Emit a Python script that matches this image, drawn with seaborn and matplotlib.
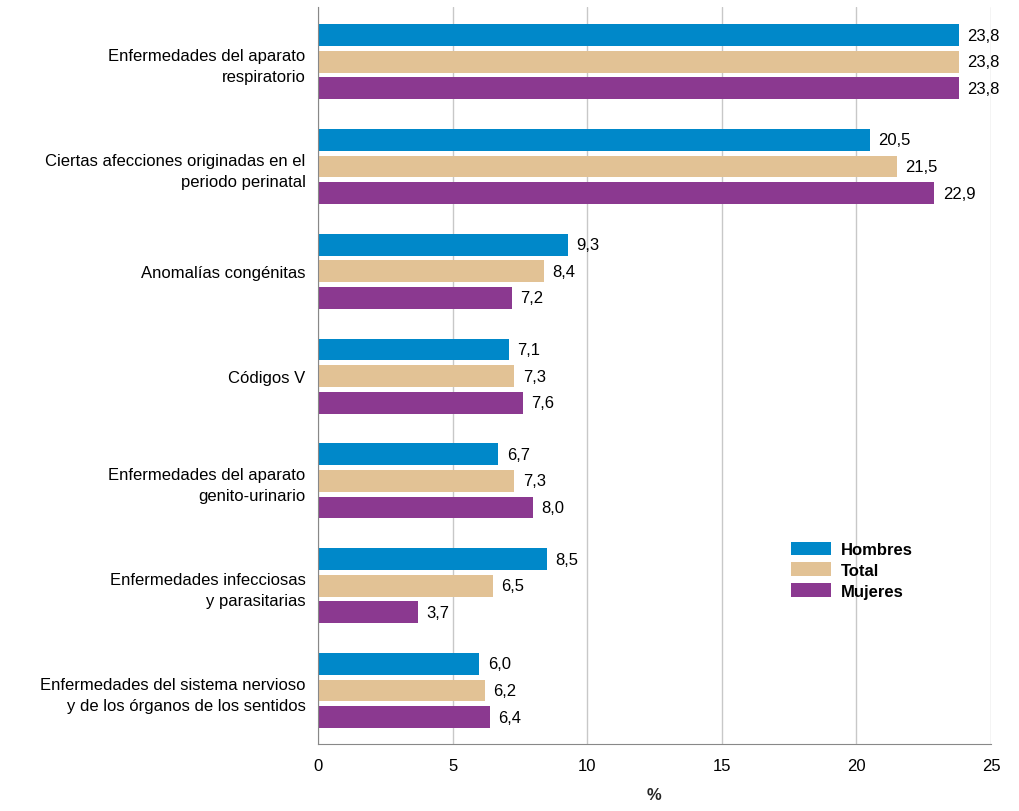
import matplotlib
matplotlib.use("Agg")
import matplotlib.pyplot as plt
import seaborn as sns
import pandas as pd

categories = ["Enfermedades del aparato\nrespiratorio",
              "Ciertas afecciones originadas en el\nperiodo perinatal",
              "Anomalías congénitas",
              "Códigos V",
              "Enfermedades del aparato\ngenito-urinario",
              "Enfermedades infecciosas\ny parasitarias",
              "Enfermedades del sistema nervioso\ny de los órganos de los sentidos"]
hombres = [23.8, 20.5, 9.3, 7.1, 6.7, 8.5, 6.0]
total = [23.8, 21.5, 8.4, 7.3, 7.3, 6.5, 6.2]
mujeres = [23.8, 22.9, 7.2, 7.6, 8.0, 3.7, 6.4]
series = ["Hombres", "Total", "Mujeres"]
colors = ["#0088C9", "#E2C295", "#8B3990"]

rows = []
for name, vals in zip(series, [hombres, total, mujeres]):
    for c, v in zip(categories, vals):
        rows.append({"cat": c, "serie": name, "val": v})
df = pd.DataFrame(rows)

sns.set_style("white")
plt.rcParams['font.family'] = ['Liberation Sans', 'DejaVu Sans']
plt.rcParams['text.color'] = 'black'
plt.rcParams['xtick.color'] = 'black'
plt.rcParams['ytick.color'] = 'black'
fig = plt.figure(figsize=(10.19, 8.12), dpi=100)
ax = fig.add_axes([0.312, 0.0825, 0.6605, 0.9075])
sns.barplot(data=df, y="cat", x="val", hue="serie", hue_order=series,
            palette=colors, orient="h", width=0.76, gap=0.18, ax=ax,
            errorbar=None, saturation=1, order=categories, linewidth=0)
for cont in ax.containers:
    ax.bar_label(cont, labels=[f"{v:.1f}".replace(".", ",") for v in cont.datavalues],
                 padding=6, fontsize=12, color="black")
ax.set_xlim(0, 25)
ax.set_ylim(6.51, -0.52)
ax.set_xticks([0, 5, 10, 15, 20, 25])
ax.xaxis.grid(True, color="#C8C8C8", lw=1)
ax.set_axisbelow(True)
for s in ["top", "right"]:
    ax.spines[s].set_visible(False)
ax.spines["left"].set_color("#888888")
ax.spines["bottom"].set_color("#888888")
ax.tick_params(axis="x", labelsize=12, length=0, pad=10)
ax.tick_params(axis="y", labelsize=12, length=0, pad=9)
for t in ax.get_yticklabels():
    t.set_linespacing(1.5)
ax.set_ylabel("")
ax.set_xlabel("%", fontsize=12, fontweight="bold", labelpad=10)
leg = ax.legend(loc="upper left", bbox_to_anchor=(0.68, 0.295), frameon=False,
                prop={"size": 12, "weight": "bold"}, handlelength=2.4,
                handleheight=0.9, labelspacing=0.3, handletextpad=0.6)
fig.savefig("out.png", dpi=100)
